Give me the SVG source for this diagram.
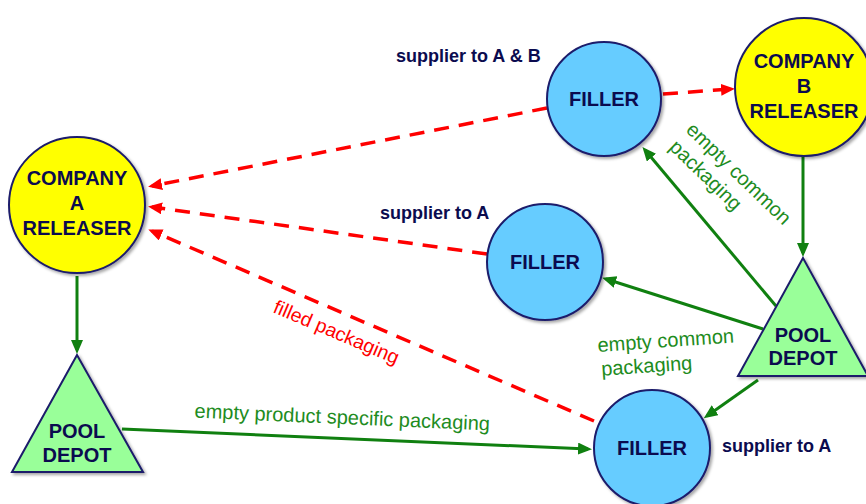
<svg xmlns="http://www.w3.org/2000/svg" width="866" height="504" viewBox="0 0 866 504">
<style>
.node{stroke:#1b1b6b;stroke-width:2;filter:url(#sh)}
.comp{fill:#ffff00}
.fill{fill:#66ccff}
.pool{fill:#99ff99}
.nl{font-family:"Liberation Sans",Arial,sans-serif;font-weight:bold;font-size:20px;fill:#0b0b4f;text-anchor:middle}
.sup{font-family:"Liberation Sans",Arial,sans-serif;font-weight:bold;font-size:18px;fill:#0b0b4f}
.g{stroke:#108010;stroke-width:3;fill:none;marker-end:url(#ag)}
.r{stroke:#ff0000;stroke-width:3.5;fill:none;stroke-dasharray:15 10;marker-end:url(#ar)}
.gl{font-family:"Liberation Sans",Arial,sans-serif;font-size:20px;fill:#1e8c1e}
.rl{font-family:"Liberation Sans",Arial,sans-serif;font-size:19.5px;fill:#ff0000}
</style>
<defs>
<filter id="sh" x="-20%" y="-20%" width="140%" height="140%">
<feDropShadow dx="2" dy="2" stdDeviation="1.5" flood-color="#000" flood-opacity="0.35"/>
</filter>
<marker id="ag" markerUnits="userSpaceOnUse" markerWidth="16" markerHeight="14" refX="10" refY="6" orient="auto">
<path d="M0,0 L14,6 L0,12 z" fill="#108010"/>
</marker>
<marker id="ar" markerUnits="userSpaceOnUse" markerWidth="16" markerHeight="14" refX="10" refY="6" orient="auto">
<path d="M0,0 L14,6 L0,12 z" fill="#ff0000"/>
</marker>
</defs>

<g id="connectors">
<line class="g" x1="77" y1="276" x2="77" y2="350"/>
<line class="g" x1="803" y1="157" x2="803" y2="253"/>
<line class="g" x1="122" y1="429" x2="588" y2="449"/>
<line class="g" x1="758" y1="380" x2="707" y2="416"/>
<line class="g" x1="763" y1="329" x2="606" y2="279"/>
<line class="g" x1="776" y1="306" x2="645" y2="150"/>
<line class="r" x1="663" y1="94" x2="731" y2="89"/>
<line class="r" x1="547" y1="108" x2="152" y2="186"/>
<line class="r" x1="487" y1="254" x2="152" y2="207"/>
<line class="r" x1="594" y1="421" x2="152" y2="231"/>
</g>

<g id="labels">
<text class="gl" x="342" y="424" text-anchor="middle" transform="rotate(2.5 342 424)">empty product specific packaging</text>
<g transform="rotate(-4 598 352)">
<text class="gl" x="598" y="352">empty common</text>
<text class="gl" x="600" y="376">packaging</text>
</g>
<g transform="rotate(44 685 131)">
<text class="gl" x="685" y="131">empty common</text>
<text class="gl" x="685" y="155">packaging</text>
</g>
<text class="rl" x="272" y="312" transform="rotate(23 272 312)">filled packaging</text>
<text class="sup" x="396" y="62">supplier to A &amp; B</text>
<text class="sup" x="380" y="219">supplier to A</text>
<text class="sup" x="722" y="452">supplier to A</text>
</g>

<g id="companyA">
<circle class="node comp" cx="77" cy="205" r="68"/>
<text class="nl" x="77" y="185">COMPANY</text>
<text class="nl" x="77" y="210">A</text>
<text class="nl" x="77" y="235">RELEASER</text>
</g>

<g id="companyB">
<circle class="node comp" cx="804" cy="87" r="69"/>
<text class="nl" x="804" y="68">COMPANY</text>
<text class="nl" x="804" y="93">B</text>
<text class="nl" x="804" y="118">RELEASER</text>
</g>

<g id="fillerTop">
<circle class="node fill" cx="604" cy="99" r="57"/>
<text class="nl" x="604" y="106">FILLER</text>
</g>

<g id="fillerMid">
<circle class="node fill" cx="545" cy="262" r="58"/>
<text class="nl" x="545" y="269">FILLER</text>
</g>

<g id="fillerBottom">
<circle class="node fill" cx="652" cy="448" r="58"/>
<text class="nl" x="652" y="455">FILLER</text>
</g>

<g id="poolLeft">
<polygon class="node pool" points="77,355 12,472 143,472"/>
<text class="nl" x="77" y="438">POOL</text>
<text class="nl" x="77" y="462">DEPOT</text>
</g>

<g id="poolRight">
<polygon class="node pool" points="803,258 738,376 868,376"/>
<text class="nl" x="803" y="342">POOL</text>
<text class="nl" x="803" y="365">DEPOT</text>
</g>
</svg>
